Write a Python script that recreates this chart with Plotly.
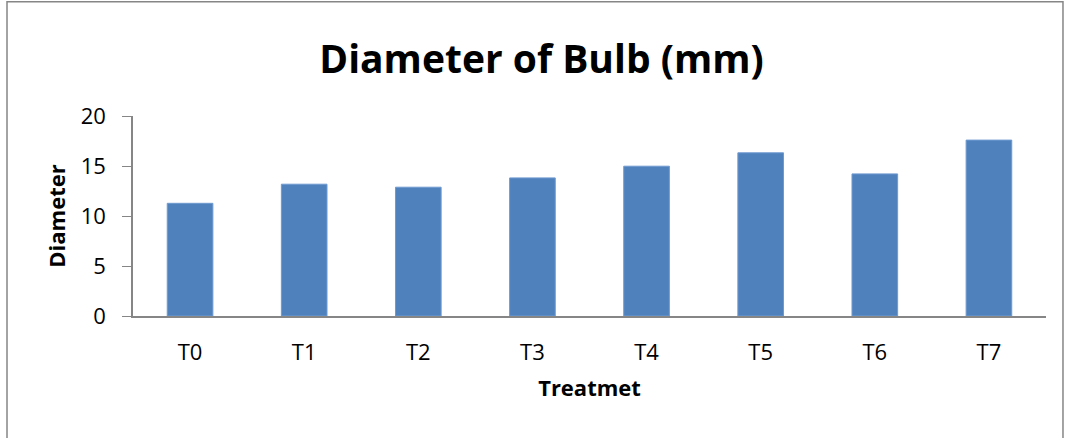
import plotly.graph_objects as go

# data
treatments = ["T0", "T1", "T2", "T3", "T4", "T5", "T6", "T7"]
diameter = [11.27, 13.18, 12.88, 13.81, 14.98, 16.32, 14.21, 17.59]
y_ticks = [0, 5, 10, 15, 20]

bar_color = "#4F81BD"
axis_color = "#868686"
font_family = "'Open Sans', sans-serif"

fig = go.Figure()

fig.add_trace(
    go.Bar(
        x=treatments,
        y=diameter,
        marker=dict(color=bar_color, line=dict(color="#6f9ad0", width=1)),
        showlegend=False,
    )
)

fig.update_layout(
    width=1066,
    height=438,
    margin=dict(l=133, r=20, t=116, b=122),
    paper_bgcolor="white",
    plot_bgcolor="white",
    bargap=0.6,
    title=dict(
        text="<b>Diameter of Bulb (mm)</b>",
        x=0.508,
        xanchor="center",
        y=0.865,
        yanchor="middle",
        font=dict(family=font_family, size=39, color="black"),
    ),
    font=dict(family=font_family, size=22, color="black"),
    # outer chart border, like the Excel chart frame
    shapes=[
        dict(
            type="rect",
            xref="paper",
            yref="paper",
            x0=-0.138,
            x1=1.0186,
            y0=-0.7,
            y1=1.571,
            line=dict(color=axis_color, width=1.5),
            fillcolor="rgba(0,0,0,0)",
            layer="below",
        )
    ],
)

fig.update_xaxes(
    showline=True,
    linecolor=axis_color,
    linewidth=1.5,
    showgrid=False,
    ticks="",
    ticklabelstandoff=16,
    tickfont=dict(size=22),
    title=dict(text="<b>Treatmet</b>", font=dict(size=22), standoff=15),
)
fig.update_yaxes(
    range=[0, 20],
    tickmode="array",
    tickvals=y_ticks,
    showline=True,
    linecolor=axis_color,
    linewidth=1.5,
    showgrid=False,
    ticks="outside",
    ticklen=9,
    tickcolor=axis_color,
    tickwidth=1,
    ticklabelstandoff=12,
    tickfont=dict(size=22),
    title=dict(text="<b>Diameter</b>", font=dict(size=22), standoff=9),
)

# drop the default page margin so the chart sits at the window corner
fig.write_html(
    "out.html",
    config={"displayModeBar": False},
    post_script="document.body.style.margin='0';",
)
